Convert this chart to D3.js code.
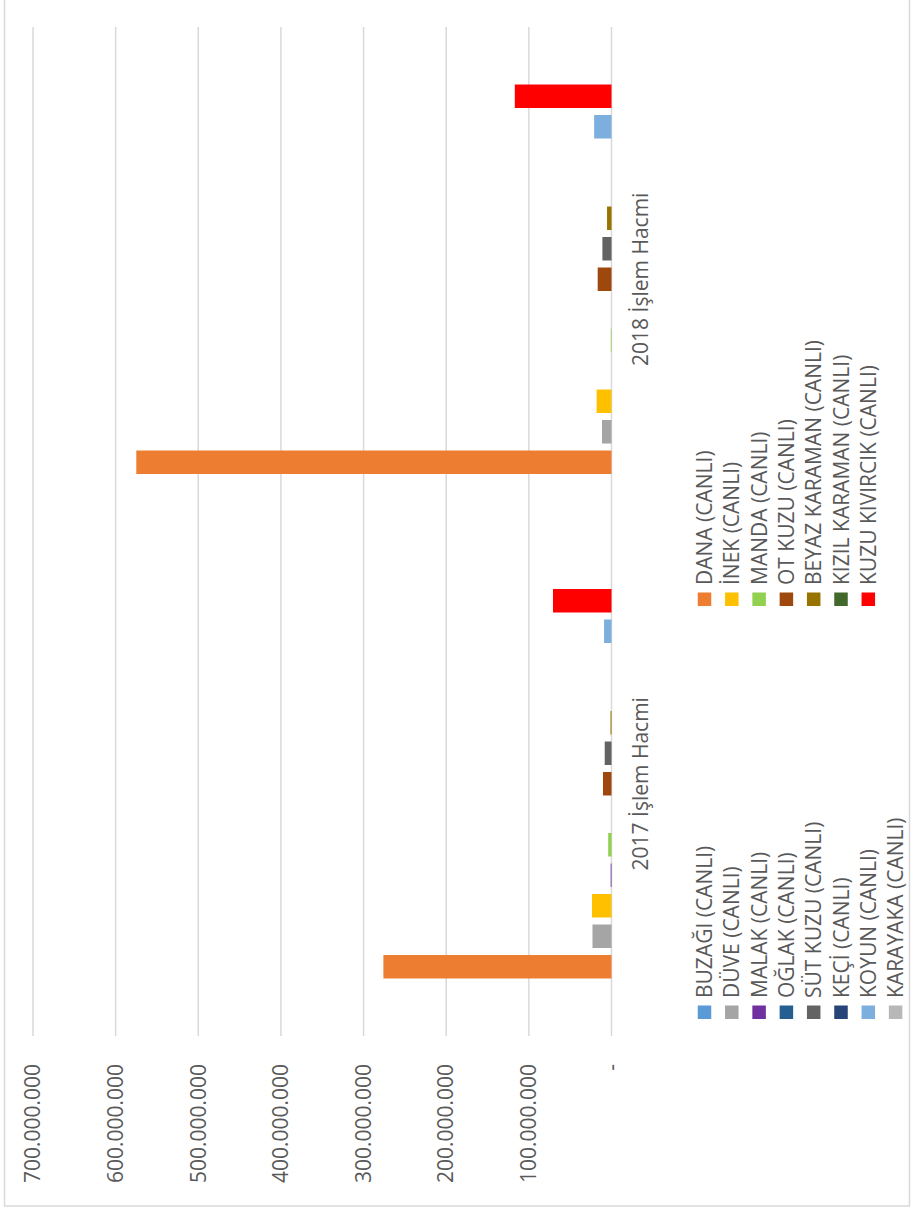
<!DOCTYPE html>
<html>
<head>
<meta charset="utf-8">
<script src="https://cdn.jsdelivr.net/npm/d3@7"></script>
<style>
  body { margin: 0; background: #fff; }
  text { font-family: "Open Sans", sans-serif; }
</style>
</head>
<body>
<div id="chart"></div>
<script>
// chart data
const categories = ["2017 İşlem Hacmi", "2018 İşlem Hacmi"];
const seriesNames = [
  "BUZAĞI (CANLI)", "DANA (CANLI)", "DÜVE (CANLI)", "İNEK (CANLI)",
  "MALAK (CANLI)", "MANDA (CANLI)", "OĞLAK (CANLI)", "OT KUZU (CANLI)",
  "SÜT KUZU (CANLI)", "BEYAZ KARAMAN (CANLI)", "KEÇİ (CANLI)",
  "KIZIL KARAMAN (CANLI)", "KOYUN (CANLI)", "KUZU KIVIRCIK (CANLI)",
  "KARAYAKA (CANLI)"
];
const seriesColors = [
  "#5B9BD5", "#ED7D31", "#A5A5A5", "#FFC000", "#7030A0", "#92D050",
  "#255E91", "#9E480E", "#636363", "#997300", "#264478", "#43682B",
  "#7CAFDD", "#FF0000", "#B7B7B7"
];
const values2017 = [
  0, 276000000, 23000000, 23600000, 1000000, 4000000, 0, 10300000,
  8200000, 1200000, 0, 0, 9000000, 70800000, 0
];
const values2018 = [
  0, 575000000, 11500000, 18000000, 0, 800000, 0, 16700000,
  11000000, 5400000, 0, 0, 21000000, 117000000, 0
];
const valueTicks = [0, 100000000, 200000000, 300000000, 400000000, 500000000, 600000000, 700000000];

const W = 913, H = 1211;
// the chart is laid out as a normal column chart (H wide, W tall) and then turned a quarter left
const plot = { left: 175, right: 1184, top: 33, bottom: 611.5 };

const rows = categories.map((c, i) => ({
  category: c,
  values: [values2017, values2018][i]
}));

const svg = d3.select("#chart").append("svg")
  .attr("width", W)
  .attr("height", H);

svg.append("rect")
  .attr("x", 4.5).attr("y", -5)
  .attr("width", 905).attr("height", 1211)
  .attr("fill", "#fff")
  .attr("stroke", "#d9d9d9")
  .attr("stroke-width", 1.5);

const g = svg.append("g")
  .attr("transform", `translate(0,${H}) rotate(-90)`);

const x0 = d3.scaleBand()
  .domain(categories)
  .range([plot.left, plot.right]);

const x1 = d3.scaleBand()
  .domain(seriesNames)
  .range([23.5, 481])
  .paddingInner(0.23)
  .paddingOuter(0.115);

const y = d3.scaleLinear()
  .domain([0, 700000000])
  .range([plot.bottom, plot.top]);

const color = d3.scaleOrdinal().domain(seriesNames).range(seriesColors);

// gridlines
g.append("g")
  .selectAll("line")
  .data(valueTicks)
  .join("line")
  .attr("x1", plot.left)
  .attr("x2", plot.right)
  .attr("y1", (d) => y(d))
  .attr("y2", (d) => y(d))
  .attr("stroke", "#d9d9d9")
  .attr("stroke-width", 1.5);

// value axis
const fmt = (v) => (v === 0 ? "-" : d3.format(",")(v).replace(/,/g, "."));
const yAxis = g.append("g")
  .attr("transform", `translate(${plot.left},0)`)
  .call(d3.axisLeft(y).tickValues(valueTicks).tickSize(0).tickPadding(28).tickFormat(fmt));
yAxis.select(".domain").remove();
yAxis.selectAll("text")
  .attr("font-family", "'Open Sans', sans-serif")
  .attr("font-size", 21)
  .attr("fill", "#595959");

// category axis
const xAxis = g.append("g")
  .attr("transform", `translate(0,${plot.bottom})`)
  .call(d3.axisBottom(x0).tickSize(0).tickPadding(21.5));
xAxis.select(".domain").remove();
xAxis.selectAll("text")
  .attr("font-family", "'Open Sans', sans-serif")
  .attr("font-size", 21)
  .attr("fill", "#595959");

// bars
g.append("g")
  .selectAll("g")
  .data(rows)
  .join("g")
  .attr("transform", (d) => `translate(${x0(d.category)},0)`)
  .selectAll("rect")
  .data((d) => seriesNames.map((s, i) => ({ s, v: d.values[i] })))
  .join("rect")
  .attr("x", (d) => x1(d.s))
  .attr("width", x1.bandwidth())
  .attr("y", (d) => y(d.v))
  .attr("height", (d) => y(0) - y(d.v))
  .attr("fill", (d) => color(d.s));

// legend, two columns
const legend = g.append("g")
  .selectAll("g")
  .data(seriesNames)
  .join("g")
  .attr("transform", (d, i) => `translate(${i % 2 ? 605 : 192},${704.5 + Math.floor(i / 2) * 27.3})`);

legend.append("rect")
  .attr("x", 0)
  .attr("y", -6.75)
  .attr("width", 13.5)
  .attr("height", 13.5)
  .attr("fill", (d) => color(d));

legend.append("text")
  .attr("x", 21)
  .attr("dy", "0.36em")
  .attr("font-size", 21)
  .attr("fill", "#595959")
  .text((d) => d);
</script>
</body>
</html>
